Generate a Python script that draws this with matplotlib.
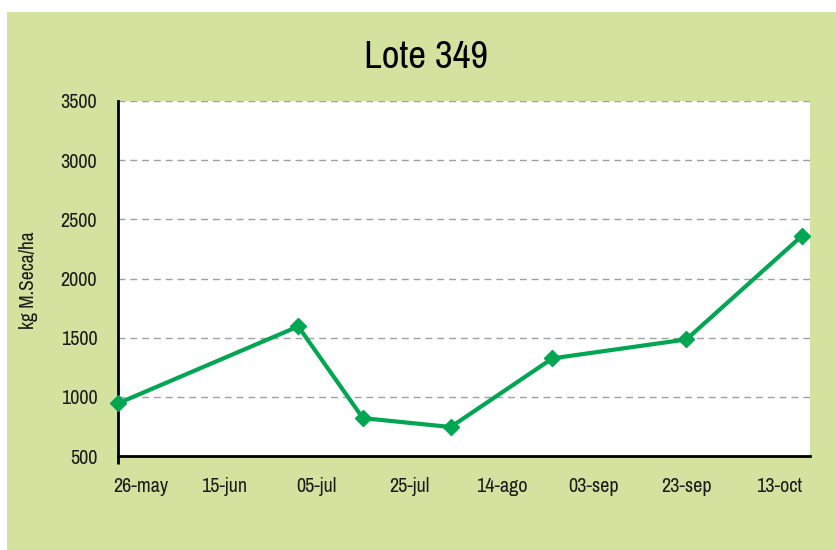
import numpy as np
import matplotlib.pyplot as plt
import matplotlib.transforms as mtransforms
from matplotlib.patches import Rectangle

# datos
fechas = np.array(['2013-05-23', '2013-07-01', '2013-07-15', '2013-08-03',
                   '2013-08-25', '2013-09-23', '2013-10-18'], dtype='datetime64[D]')
materia_seca = [945, 1595, 820, 745, 1325, 1485, 2360]

tick_fechas = np.array(['2013-05-26', '2013-06-15', '2013-07-05', '2013-07-25',
                        '2013-08-14', '2013-09-03', '2013-09-23', '2013-10-13'],
                       dtype='datetime64[D]')
tick_labels = ['26-may', '15-jun', '05-jul', '25-jul', '14-ago', '03-sep', '23-sep', '13-oct']
y_ticks = [500, 1000, 1500, 2000, 2500, 3000, 3500]

titulo = 'Lote 349'
ylabel = 'kg M.Seca/ha'

plt.rcParams['font.family'] = ['Archivo Narrow', 'DejaVu Sans']

fondo = '#d3e39f'
verde = '#00a651'

fig = plt.figure(figsize=(8.36, 5.5), dpi=100)
fig.patch.set_facecolor('white')
# marco verde del grafico (con borde blanco arriba e izquierda)
fig.patches.append(Rectangle((7 / 836, 0), 1, 1 - 12 / 550, transform=fig.transFigure,
                             facecolor=fondo, edgecolor='none', zorder=-10))

ax = fig.add_axes([118 / 836, 1 - 456 / 550, (810 - 118) / 836, (456 - 101) / 550])
ax.set_facecolor('white')

ax.plot(fechas, materia_seca, color=verde, lw=3, marker='D', markersize=8,
        clip_on=False, zorder=3)

ax.set_ylim(500, 3500)
ax.set_yticks(y_ticks)
ax.set_xlim(np.datetime64('2013-05-23'), np.datetime64('2013-10-19') + np.timedelta64(18, 'h'))
ax.set_xticks(tick_fechas, tick_labels)

ax.yaxis.grid(True, color='#a0a0a0', linestyle=(0, (5, 3.5)), linewidth=1)
ax.set_axisbelow(True)

for s in ['top', 'right']:
    ax.spines[s].set_visible(False)
for s in ['left', 'bottom']:
    ax.spines[s].set_linewidth(2)
    ax.spines[s].set_color('black')

ax.tick_params(axis='both', length=0, labelsize=14.5, colors='#1a1a1a')
ax.tick_params(axis='x', pad=15)
ax.tick_params(axis='y', pad=15)

# cruz en la esquina
ax.set_yticks([500], minor=True)
ax.set_xticks([fechas[0]], minor=True)
ax.tick_params(which='minor', direction='out', length=6, width=2, color='black')
ax.xaxis.set_tick_params(which='minor', labelbottom=False)
ax.yaxis.set_tick_params(which='minor', labelleft=False)

# primera etiqueta desplazada como en el original
lbl = ax.get_xticklabels()[0]
lbl.set_transform(lbl.get_transform() + mtransforms.ScaledTranslation(9 / 100, 0, fig.dpi_scale_trans))

fig.text(426 / 836, 1 - 57 / 550, titulo, ha='center', va='center', fontsize=28, color='black')
fig.text(29 / 836, 1 - 280 / 550, ylabel, ha='center', va='center', rotation=90,
         fontsize=14, color='#1a1a1a')

fig.savefig('out.png', dpi=100, facecolor=fig.get_facecolor())
